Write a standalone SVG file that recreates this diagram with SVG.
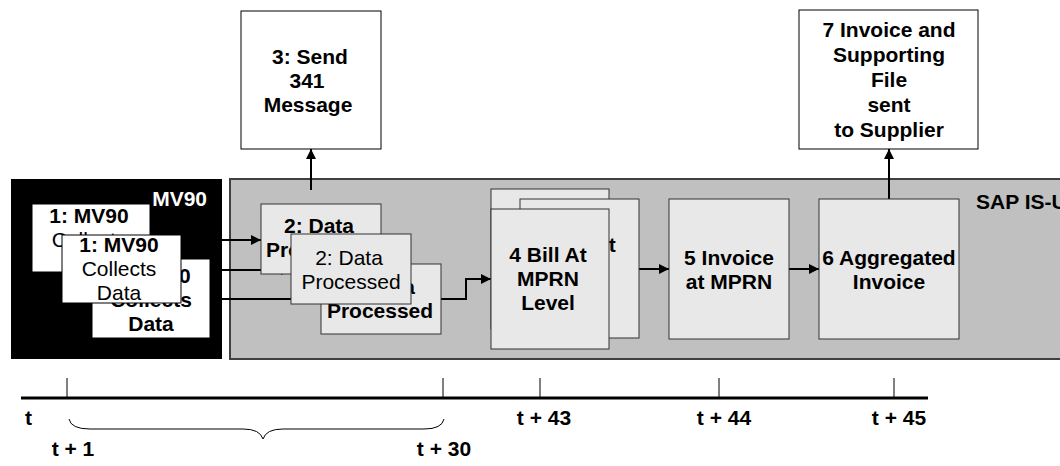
<svg xmlns="http://www.w3.org/2000/svg" width="1060" height="466" viewBox="0 0 1060 466">
<style>
text{font-family:"Liberation Sans",Arial,sans-serif;font-size:21px;fill:#000}
.b{font-weight:bold}
.c{text-anchor:middle}
.w{fill:#fff;stroke:#000;stroke-width:1}
.g{fill:#e8e8e8;stroke:#333;stroke-width:1}
.ln{fill:none;stroke:#000;stroke-width:2}
.tk{fill:none;stroke:#000;stroke-width:1}
</style>
<defs>
<marker id="ah" viewBox="0 0 10 10" refX="10" refY="5" markerWidth="11" markerHeight="10" markerUnits="userSpaceOnUse" orient="auto">
<path d="M0,0 L10,5 L0,10 z" fill="#000"/>
</marker>
</defs>
<rect width="1060" height="466" fill="#fff"/>
<g id="mv90-system">
<rect x="11" y="179" width="211" height="180" fill="#000"/>
<text x="207" y="206" class="b" style="fill:#fff;text-anchor:end">MV90</text>
</g>
<g id="sap-isu-system">
<rect x="230" y="179" width="840" height="180" fill="#c0c0c0" stroke="#404040" stroke-width="2"/>
<text x="976" y="209" class="b">SAP IS-U</text>
</g>
<g id="connectors">
<line x1="150" y1="240" x2="261" y2="240" class="ln" marker-end="url(#ah)"/>
<line x1="210" y1="270" x2="291" y2="270" class="ln" marker-end="url(#ah)"/>
<line x1="210" y1="299" x2="321" y2="299" class="ln" marker-end="url(#ah)"/>
<line x1="311" y1="190" x2="311" y2="149" class="ln" marker-end="url(#ah)"/>
<polyline points="441,299 466,299 466,279 491,279" class="ln" marker-end="url(#ah)"/>
<line x1="639" y1="269" x2="669" y2="269" class="ln" marker-end="url(#ah)"/>
<line x1="789" y1="269" x2="819" y2="269" class="ln" marker-end="url(#ah)"/>
<line x1="889" y1="199" x2="889" y2="149" class="ln" marker-end="url(#ah)"/>
</g>
<g id="node1-back">
<rect x="32" y="204" width="118" height="68" class="w"/>
<text x="89" y="223" class="b c">1: MV90</text>
<text x="89" y="247" class="c">Collects</text>
<text x="89" y="271" class="c">Data</text>
</g>
<g id="node1-bold">
<rect x="92" y="259" width="118" height="79" class="w"/>
<text x="151" y="283" class="b c">1: MV90</text>
<text x="151" y="307" class="b c">Collects</text>
<text x="151" y="331" class="b c">Data</text>
</g>
<g id="node1-front">
<rect x="62" y="235" width="119" height="68" class="w"/>
<text x="119" y="252" class="b c">1: MV90</text>
<text x="119" y="276" class="c">Collects</text>
<text x="119" y="300" class="c">Data</text>
</g>
<g id="node2-back">
<rect x="261" y="204" width="120" height="70" class="g"/>
<text x="319" y="233" class="b c">2: Data</text>
<text x="319" y="257" class="b c">Processed</text>
</g>
<g id="node2-bold">
<rect x="321" y="264" width="120" height="70" class="g"/>
<text x="380" y="294" class="b c">2: Data</text>
<text x="380" y="318" class="b c">Processed</text>
</g>
<g id="node2-front">
<rect x="291" y="234" width="120" height="70" class="g"/>
<text x="349" y="265" class="c">2: Data</text>
<text x="351" y="289" class="c">Processed</text>
</g>
<g id="node3">
<rect x="241" y="11" width="140" height="138" class="w"/>
<text x="310" y="64" class="b c">3: Send</text>
<text x="307" y="88" class="b c">341</text>
<text x="308" y="112" class="b c">Message</text>
</g>
<g id="node4-back2">
<rect x="491" y="189" width="118" height="140" class="g"/>
</g>
<g id="node4-back1">
<rect x="520" y="199" width="119" height="139" class="g"/>
<text x="577" y="252" class="b c">4 Bill At</text>
<text x="577" y="276" class="b c">MPRN</text>
<text x="577" y="300" class="b c">Level</text>
</g>
<g id="node4">
<rect x="491" y="209" width="118" height="140" class="g"/>
<text x="548" y="262" class="b c">4 Bill At</text>
<text x="548" y="286" class="b c">MPRN</text>
<text x="548" y="310" class="b c">Level</text>
</g>
<g id="node5">
<rect x="669" y="199" width="120" height="140" class="g"/>
<text x="729" y="265" class="b c">5 Invoice</text>
<text x="729" y="289" class="b c">at MPRN</text>
</g>
<g id="node6">
<rect x="819" y="199" width="140" height="140" class="g"/>
<text x="889" y="265" class="b c">6 Aggregated</text>
<text x="889" y="289" class="b c">Invoice</text>
</g>
<g id="node7">
<rect x="799" y="10" width="179" height="139" class="w"/>
<text x="889" y="37" class="b c">7 Invoice and</text>
<text x="889" y="62" class="b c">Supporting</text>
<text x="889" y="87" class="b c">File</text>
<text x="889" y="112" class="b c">sent</text>
<text x="889" y="137" class="b c">to Supplier</text>
</g>
<g id="timeline">
<line x1="21" y1="398" x2="928" y2="398" stroke="#000" stroke-width="3"/>
<line x1="67" y1="378" x2="67" y2="398" class="tk"/>
<line x1="443" y1="378" x2="443" y2="398" class="tk"/>
<line x1="540" y1="378" x2="540" y2="398" class="tk"/>
<line x1="719" y1="378" x2="719" y2="398" class="tk"/>
<line x1="894" y1="378" x2="894" y2="398" class="tk"/>
<path d="M69,419 Q71,429 90,429 L243,429 Q260,429 263,439 Q266,429 283,429 L424,429 Q442,429 444,419" class="tk"/>
<text x="25" y="425" class="b">t</text>
<text x="544" y="425" class="b c">t + 43</text>
<text x="724" y="425" class="b c">t + 44</text>
<text x="899" y="425" class="b c">t + 45</text>
<text x="73" y="456" class="b c">t + 1</text>
<text x="444" y="456" class="b c">t + 30</text>
</g>
</svg>
